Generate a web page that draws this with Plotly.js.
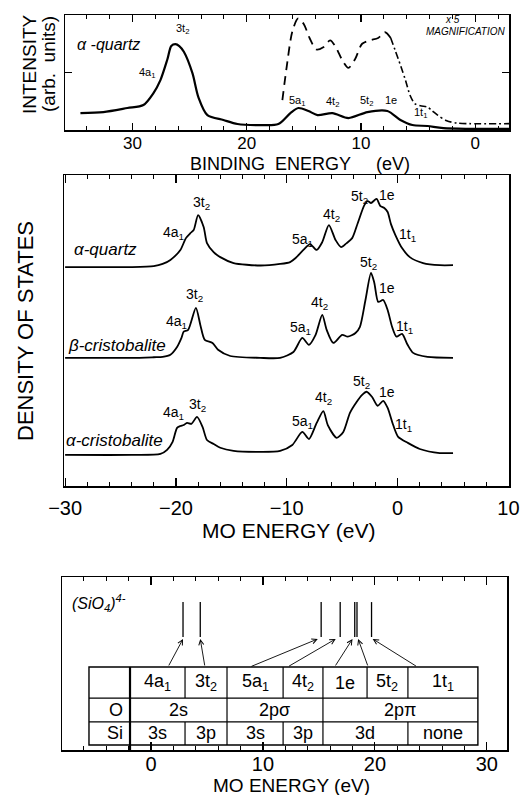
<!DOCTYPE html>
<html><head><meta charset="utf-8">
<script src="https://cdn.plot.ly/plotly-3.0.1.min.js"></script>
<style>html,body{margin:0;padding:0;background:#fff}#chart{width:527px;height:795px}</style>
</head><body><div id="chart"></div>
<script>
// ---------- DATA ----------
// Top panel: photoemission spectrum of alpha-quartz (binding energy, eV)
const xpsEnergy = [34.55, 32.54, 30.44, 29.04, 28.16, 27.55, 26.94, 26.6, 26.24, 25.9, 25.5, 24.75, 24.23, 23.44, 22.04, 20.81, 18.8, 17.23, 16.18, 15.48, 14.6, 13.81, 12.5, 11.1, 9.44, 7.69, 6.55, 5.5, 4.19, 2.79, -2.95];
const xpsIntensity = [0.147, 0.156, 0.191, 0.217, 0.321, 0.434, 0.615, 0.73, 0.746, 0.73, 0.68, 0.494, 0.286, 0.13, 0.087, 0.052, 0.043, 0.052, 0.147, 0.191, 0.165, 0.13, 0.147, 0.104, 0.156, 0.165, 0.087, 0.043, 0.035, 0.017, 0.009];
// x5 magnification (dashed part, then dash-dot part)
const magEnergyA = [16.88, 16.5, 16.0, 15.5, 15.0, 14.5, 13.9, 13.3, 12.7, 12.2, 11.6, 11.1, 10.5, 9.9, 9.2, 8.5, 7.9, 7.4];
const magIntensityA = [0.26, 0.55, 0.86, 0.97, 0.92, 0.8, 0.7, 0.72, 0.78, 0.72, 0.6, 0.54, 0.62, 0.75, 0.78, 0.8, 0.85, 0.8];
const magEnergyB = [7.4, 7.0, 6.5, 6.1, 5.7, 5.3, 4.8, 4.2, 3.8, 3.3, 2.5, 1.6, 0.5, -2.95];
const magIntensityB = [0.8, 0.69, 0.55, 0.43, 0.3, 0.23, 0.21, 0.2, 0.17, 0.13, 0.08, 0.06, 0.055, 0.055];

// Middle panel: calculated density of states (MO energy, eV), curves offset vertically
const dosEnergyAQ = [-30, -24, -22, -21.2, -20.5, -19.6, -19.1, -18.7, -18.4, -18.0, -17.5, -17.2, -16.6, -16.0, -14.8, -12.4, -10.6, -9.7, -9.2, -8.5, -7.9, -7.3, -6.8, -6.2, -5.6, -5.1, -4.6, -4.1, -3.6, -3.0, -2.7, -2.4, -1.9, -1.55, -1.2, -0.9, -0.6, -0.2, 0.4, 1.1, 2.3, 3.8, 5.0];
const dosAQ = [0, 0, 0.03, 0.1, 0.23, 0.55, 0.93, 1.09, 1.19, 1.67, 1.29, 0.77, 0.48, 0.32, 0.13, 0.05, 0.1, 0.16, 0.29, 0.55, 0.74, 0.55, 0.8, 1.35, 0.87, 0.64, 0.77, 0.93, 1.41, 1.99, 2.12, 2.06, 2.19, 1.96, 1.9, 1.77, 1.38, 1.03, 0.61, 0.32, 0.13, 0.06, 0.06];
const dosEnergyBC = [-30, -24, -22, -21.2, -20.5, -19.9, -19.5, -19.3, -18.9, -18.2, -17.8, -17.4, -16.7, -16.2, -15.1, -12.4, -10.6, -9.4, -8.6, -8.0, -7.4, -6.8, -6.4, -5.8, -5.0, -4.5, -3.8, -3.4, -2.9, -2.4, -2.1, -1.75, -1.3, -0.9, -0.5, -0.1, 0.4, 0.9, 1.4, 2.7, 5.0];
const dosBC = [0, 0, 0.02, 0.03, 0.1, 0.35, 0.64, 0.84, 0.9, 1.61, 1.06, 0.58, 0.48, 0.26, 0.06, 0, 0, 0.19, 0.64, 0.42, 0.74, 1.38, 0.9, 0.48, 0.74, 0.68, 0.8, 1.0, 1.86, 2.73, 2.41, 1.8, 1.86, 1.54, 1.0, 0.68, 0.77, 0.42, 0.16, 0.03, 0];
const dosEnergyAC = [-30, -24, -21.4, -20.8, -20.3, -19.9, -19.6, -19.3, -19.0, -18.6, -18.1, -17.6, -17.2, -16.6, -16.0, -14.8, -12.4, -10.6, -9.5, -8.6, -8.0, -7.3, -6.7, -6.3, -5.5, -4.9, -4.3, -3.7, -3.2, -2.8, -2.3, -1.8, -1.3, -0.9, -0.4, 0.05, 0.9, 2.0, 3.8, 5.0];
const dosAC = [0, 0, 0.03, 0.16, 0.42, 0.87, 0.93, 0.96, 1.03, 1.0, 1.22, 0.9, 0.48, 0.35, 0.23, 0.13, 0.1, 0.13, 0.32, 0.74, 0.51, 1.03, 1.41, 0.96, 0.55, 0.74, 1.35, 1.7, 1.93, 2.03, 1.86, 1.58, 1.74, 1.51, 0.96, 0.58, 0.39, 0.19, 0.06, 0.06];
const dosOffsets = {aq: 7.04, bc: 4.12, ac: 1.0};

// Bottom panel: (SiO4)4- cluster levels (MO energy, eV)
const levelNames = ['4a1', '3t2', '5a1', '4t2', '1e', '5t2', '1t1'];
const levelEnergy = [2.86, 4.4, 15.2, 16.9, 18.2, 18.4, 19.7];

// ---------- LAYOUT HELPERS ----------
const W = 527, H = 795;
const FF = 'Liberation Sans, Arial, Helvetica, sans-serif';
const X = p => p / W, Y = p => 1 - p / H;
function T(text, x, y, size, extra) {
  return Object.assign({xref: 'paper', yref: 'paper', x: X(x), y: Y(y), text: text, showarrow: false,
    font: {family: FF, size: size, color: '#000'}, xanchor: 'center', yanchor: 'middle'}, extra || {});
}
const sub = (a, b) => a + '<sub>' + b + '</sub>';

const traces = [];
traces.push({x: xpsEnergy, y: xpsIntensity, xaxis: 'x', yaxis: 'y', mode: 'lines', line: {color: '#000', width: 2.2, shape: 'spline', smoothing: 0.8}});
traces.push({x: magEnergyA, y: magIntensityA, xaxis: 'x', yaxis: 'y', mode: 'lines', line: {color: '#000', width: 1.8, shape: 'spline', smoothing: 0.8, dash: '9px,6px'}});
traces.push({x: magEnergyB, y: magIntensityB, xaxis: 'x', yaxis: 'y', mode: 'lines', line: {color: '#000', width: 1.6, shape: 'spline', smoothing: 0.8, dash: '7px,3px,2px,3px'}});

[[dosEnergyAQ, dosAQ, dosOffsets.aq], [dosEnergyBC, dosBC, dosOffsets.bc], [dosEnergyAC, dosAC, dosOffsets.ac]].forEach(([e, d, o]) => {
  traces.push({x: e, y: d.map(v => v + o), xaxis: 'x2', yaxis: 'y2', mode: 'lines', line: {color: '#000', width: 1.8, shape: 'spline', smoothing: 0.7}});
});

// level lines
const lvX = [], lvY = [];
levelEnergy.forEach(e => { lvX.push(e, e, null); lvY.push(0.653, 0.855, null); });
traces.push({x: lvX, y: lvY, xaxis: 'x3', yaxis: 'y3', mode: 'lines', line: {color: '#000', width: 1.3}});
traces.forEach(t => { t.showlegend = false; t.hoverinfo = 'skip'; });

const axBase = {showline: true, linecolor: '#000', linewidth: 1.5, mirror: 'ticks', ticks: 'inside', tickcolor: '#000',
  showgrid: false, zeroline: false, fixedrange: true, automargin: false, tickfont: {family: FF, color: '#000'}};

const layout = {
  width: W, height: H, margin: {l: 0, r: 0, t: 0, b: 0}, paper_bgcolor: '#fff', plot_bgcolor: '#fff', showlegend: false,
  xaxis: Object.assign({}, axBase, {domain: [X(65), X(509)], range: [35.9, -2.95], tickvals: [30, 20, 10, 0], ticklen: 7, tickwidth: 1.2,
    minor: {dtick: 2, tick0: 0, ticks: 'inside', ticklen: 4, tickcolor: '#000', tickwidth: 1}, tickfont: {family: FF, size: 17, color: '#000'}, ticklabelstandoff: -3, anchor: 'y'}),
  yaxis: Object.assign({}, axBase, {domain: [Y(130), Y(15)], range: [0, 1], tickvals: [0.5], ticklen: 7, showticklabels: false, mirror: 'ticks', anchor: 'x'}),
  xaxis2: Object.assign({}, axBase, {domain: [X(64), X(509)], range: [-30.1, 10.05], tickvals: [-30, -20, -10, 0, 10], ticklen: 8, tickwidth: 1.2,
    minor: {dtick: 2, tick0: 0, ticks: 'inside', ticklen: 4, tickcolor: '#000', tickwidth: 1}, tickfont: {family: FF, size: 20, color: '#000'}, ticklabelstandoff: 3, anchor: 'y2'}),
  yaxis2: Object.assign({}, axBase, {domain: [Y(486), Y(175)], range: [0, 10], ticks: '', showticklabels: false, mirror: true, anchor: 'x2'}),
  xaxis3: Object.assign({}, axBase, {domain: [X(62), X(507)], range: [-7.95, 31.8], tickvals: [0, 10, 20, 30], ticklen: 8, tickwidth: 1.2,
    minor: {dtick: 2, tick0: 0, ticks: 'inside', ticklen: 4, tickcolor: '#000', tickwidth: 1}, tickfont: {family: FF, size: 20, color: '#000'}, ticklabelstandoff: -5, anchor: 'y3'}),
  yaxis3: Object.assign({}, axBase, {domain: [Y(750), Y(577)], range: [0, 1], ticks: '', showticklabels: false, mirror: true, anchor: 'x3'}),
  shapes: [], annotations: []
};

const A = layout.annotations;
// top panel texts
A.push(T('<i>α -quartz</i>', 75, 45, 16, {xanchor: 'left'}));
A.push(T(sub('3t', '2'), 182, 29, 11));
A.push(T(sub('4a', '1'), 147, 73, 11));
A.push(T(sub('5a', '1'), 297, 101, 11));
A.push(T(sub('4t', '2'), 332, 102, 11));
A.push(T(sub('5t', '2'), 366, 101, 11));
A.push(T('1e', 391, 100, 11));
A.push(T(sub('1t', '1'), 420, 113, 11));
A.push(T('<i>x\u00a05</i>', 452, 20, 10));
A.push(T('<i>MAGNIFICATION</i>', 465, 32, 10));
A.push(T('BINDING\u00a0\u00a0ENERGY\u00a0\u00a0\u00a0\u00a0\u00a0(eV)', 300, 164, 18));
A.push(T('INTENSITY', 30, 64, 19, {textangle: -90}));
A.push(T('(arb.\u00a0 units)', 49, 64, 19, {textangle: -90}));

// middle panel texts
A.push(T('DENSITY OF STATES', 25, 331, 22, {textangle: -90}));
A.push(T('<i>α-quartz</i>', 72, 250, 17, {xanchor: 'left'}));
A.push(T('<i>β-cristobalite</i>', 66, 345, 17, {xanchor: 'left'}));
A.push(T('<i>α-cristobalite</i>', 64, 440, 17, {xanchor: 'left'}));
[
  ['4a1', 173, 233], ['3t2', 201, 203], ['5a1', 302, 240], ['4t2', 331, 215], ['5t2', 359, 197], ['1e', 387, 195], ['1t1', 407, 235],
  ['4a1', 176, 322], ['3t2', 194, 295], ['5a1', 300, 328], ['4t2', 319, 303], ['5t2', 368, 263], ['1e', 387, 288], ['1t1', 404, 327],
  ['4a1', 173, 413], ['3t2', 197, 405], ['5a1', 302, 422], ['4t2', 323, 398], ['5t2', 361, 382], ['1e', 387, 392], ['1t1', 403, 425]
].forEach(([n, x, y]) => {
  const txt = n === '1e' ? '1e' : sub(n.slice(0, 2), n.slice(2));
  A.push(T(txt, x, y, 14));
});
A.push(T('MO ENERGY (eV)', 288, 530, 21));

// bottom panel
A.push(T('<i>(SiO<sub>4</sub>)<sup>4-</sup></i>', 70, 603, 16, {xanchor: 'left'}));
A.push(T('MO ENERGY (eV)', 291, 785, 19));

// table (data coords of bottom panel)
const colEdges = [-5.54, -1.875, 3.04, 6.79, 11.8, 15.36, 19.3, 22.95, 29.2];
const rowEdges = [0.48, 0.30, 0.162, 0.029];
const S = layout.shapes;
const ln = (x0, y0, x1, y1, w) => S.push({type: 'line', xref: 'x3', yref: 'y3', x0, y0, x1, y1, line: {color: '#000', width: w || 1.2}});
S.push({type: 'rect', xref: 'x3', yref: 'y3', x0: colEdges[0], x1: colEdges[8], y0: rowEdges[3], y1: rowEdges[0], line: {color: '#000', width: 1.4}});
ln(colEdges[0], rowEdges[1], colEdges[8], rowEdges[1]);
ln(colEdges[0], rowEdges[2], colEdges[8], rowEdges[2]);
ln(colEdges[1], rowEdges[0], colEdges[1], 0, 2.2);
// row 1 dividers
[2, 3, 4, 5, 6, 7].forEach(i => ln(colEdges[i], rowEdges[0], colEdges[i], rowEdges[1]));
// row 2 dividers (O)
[3, 5].forEach(i => ln(colEdges[i], rowEdges[1], colEdges[i], rowEdges[2]));
// row 3 dividers (Si)
[2, 3, 4, 5, 7].forEach(i => ln(colEdges[i], rowEdges[2], colEdges[i], rowEdges[3]));

const cell = (text, c0, c1, r) => A.push({xref: 'x3', yref: 'y3', x: (colEdges[c0] + colEdges[c1]) / 2, y: (rowEdges[r] + rowEdges[r + 1]) / 2,
  text, showarrow: false, font: {family: FF, size: 18, color: '#000'}, xanchor: 'center', yanchor: 'middle'});
levelNames.forEach((n, i) => cell(n === '1e' ? '1e' : sub(n.slice(0, 2), n.slice(2)), i + 1, i + 2, 0));
A.push({xref: 'x3', yref: 'y3', x: colEdges[1] - 0.45, y: (rowEdges[1] + rowEdges[2]) / 2, text: 'O', showarrow: false, font: {family: FF, size: 18, color: '#000'}, xanchor: 'right', yanchor: 'middle'});
A.push({xref: 'x3', yref: 'y3', x: colEdges[1] - 0.45, y: (rowEdges[2] + rowEdges[3]) / 2, text: 'Si', showarrow: false, font: {family: FF, size: 18, color: '#000'}, xanchor: 'right', yanchor: 'middle'});
cell('2s', 1, 3, 1); cell('2pσ', 3, 5, 1); cell('2pπ', 5, 8, 1);
cell('3s', 1, 2, 2); cell('3p', 2, 3, 2); cell('3s', 3, 4, 2); cell('3p', 4, 5, 2); cell('3d', 5, 7, 2); cell('none', 7, 8, 2);

// arrows from table cells to levels: [tail x, head x]
const arrowTails = [1.52, 4.82, 8.84, 12.2, 16.4, 19.4, 23.8];
const arrowHeads = [2.86, 4.4, 14.9, 16.5, 18.0, 18.5, 19.8];
arrowTails.forEach((t, i) => A.push({xref: 'x3', yref: 'y3', axref: 'x3', ayref: 'y3', x: arrowHeads[i], y: 0.642, ax: t, ay: rowEdges[0],
  text: '', showarrow: true, arrowhead: 5, arrowsize: 1.1, arrowwidth: 0.9, arrowcolor: '#000', standoff: 0, startstandoff: 0}));

Plotly.newPlot('chart', traces, layout, {staticPlot: true, displayModeBar: false});
</script></body></html>
